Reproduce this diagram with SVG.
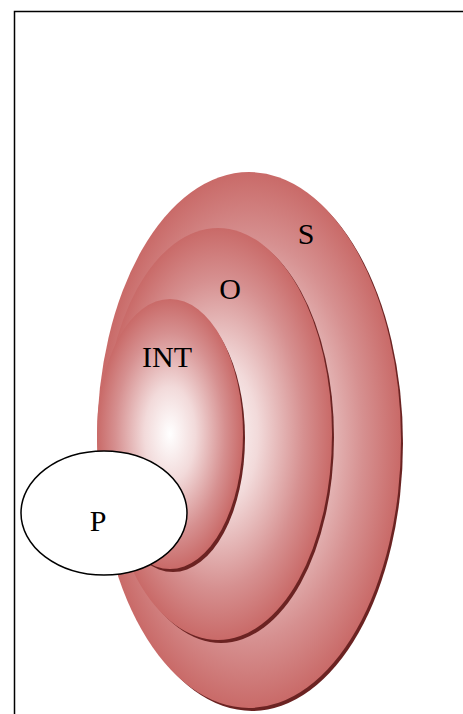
<svg xmlns="http://www.w3.org/2000/svg" width="463" height="714" viewBox="0 0 463 714">
<defs>
<radialGradient id="g" cx="0.5" cy="0.5" r="0.5">
<stop offset="0" stop-color="#ffffff"/>
<stop offset="0.35" stop-color="#f2dada"/>
<stop offset="0.75" stop-color="#d69090"/>
<stop offset="1" stop-color="#c96a68"/>
</radialGradient>
<style>
.sh{fill:#6b2322}
.el{fill:url(#g)}
.lbl{font-family:"Liberation Serif","Times New Roman",serif;font-size:30px;fill:#000;text-anchor:middle}
</style>
</defs>
<rect x="14.5" y="11.5" width="460" height="720" fill="#fff" stroke="#000" stroke-width="1.5"/>
<g id="S">
<ellipse class="sh" cx="252" cy="443" rx="151" ry="268"/>
<ellipse class="el" cx="249" cy="440" rx="152" ry="268"/>
<text class="lbl" x="306" y="244">S</text>
</g>
<g id="O">
<ellipse class="sh" cx="221" cy="437" rx="113" ry="206"/>
<ellipse class="el" cx="218" cy="434" rx="114" ry="206"/>
<text class="lbl" x="230" y="299">O</text>
</g>
<g id="INT">
<ellipse class="sh" cx="173" cy="438" rx="72" ry="134"/>
<ellipse class="el" cx="170" cy="434" rx="73" ry="135"/>
<text class="lbl" x="167" y="367">INT</text>
</g>
<g id="P">
<ellipse cx="104" cy="513" rx="83" ry="62" fill="#fff" stroke="#000" stroke-width="1.5"/>
<text class="lbl" x="98" y="531">P</text>
</g>
<g id="connectors"/>
</svg>
